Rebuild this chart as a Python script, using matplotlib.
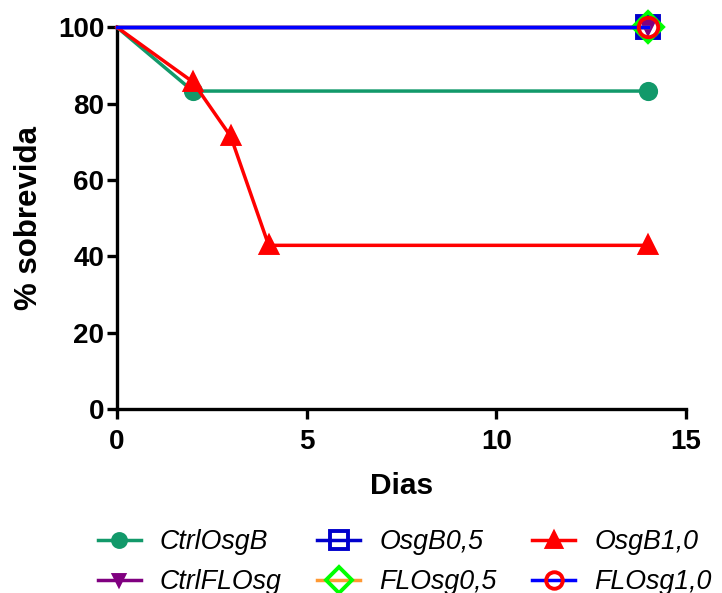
import matplotlib
matplotlib.use("Agg")
import matplotlib.pyplot as plt

plt.rcParams['font.family'] = ['Liberation Sans', 'DejaVu Sans']

# Survival (%) per group over days
days_ctrl_osgb = [0, 2, 14]
surv_ctrl_osgb = [100, 83.3, 83.3]

days_ctrl_flosg = [0, 14]
surv_ctrl_flosg = [100, 100]

days_osgb05 = [0, 14]
surv_osgb05 = [100, 100]

days_flosg05 = [0, 14]
surv_flosg05 = [100, 100]

days_osgb10 = [0, 2, 3, 4, 14]
surv_osgb10 = [100, 85.7, 71.4, 42.9, 42.9]

days_flosg10 = [0, 14]
surv_flosg10 = [100, 100]

# label, x, y, line colour, marker, marker edge, marker face, marker size
series = [
    ("CtrlOsgB", days_ctrl_osgb, surv_ctrl_osgb, "#12996A", "o", "#12996A", "#12996A", 11),
    ("CtrlFLOsg", days_ctrl_flosg, surv_ctrl_flosg, "#800080", "v", "#800080", "#800080", 9),
    ("OsgB0,5", days_osgb05, surv_osgb05, "#0000CC", "s", "#0000CC", "none", 16),
    ("FLOsg0,5", days_flosg05, surv_flosg05, "#FF9933", "D", "#00FF00", "none", 15),
    ("OsgB1,0", days_osgb10, surv_osgb10, "#FF0000", "^", "#FF0000", "#FF0000", 12),
    ("FLOsg1,0", days_flosg10, surv_flosg10, "#0000FF", "o", "#FF0000", "none", 14),
]

fig = plt.figure(figsize=(7.22, 5.93), dpi=100)
ax = fig.add_axes([0.162, 0.310, 0.788, 0.644])

for label, x, y, lc, mk, mec, mfc, ms in series:
    ax.plot(x, y, color=lc, lw=2.5, marker=mk, markevery=list(range(1, len(x))),
            ms=ms, mec=mec, mfc=mfc, mew=2.8,
            label=label, clip_on=False, zorder=3)

ax.set_xlim(0, 15)
ax.set_ylim(0, 100)
ax.set_xticks([0, 5, 10, 15])
ax.set_yticks([0, 20, 40, 60, 80, 100])
for s in ['top', 'right']:
    ax.spines[s].set_visible(False)
for s in ['left', 'bottom']:
    ax.spines[s].set_linewidth(2.4)
ax.tick_params(width=2.4, length=7, labelsize=20, pad=2)
ax.tick_params(axis='x', pad=7.5)
for t in ax.get_xticklabels() + ax.get_yticklabels():
    t.set_fontweight('bold')

ax.set_xlabel("Dias", fontsize=21.5, fontweight='bold', labelpad=12)
ax.set_ylabel("% sobrevida", fontsize=22.5, fontweight='bold', labelpad=10)

handles, labels = ax.get_legend_handles_labels()
leg = fig.legend(handles, labels, loc='upper left', bbox_to_anchor=(0.102, 0.148),
                 ncol=3, frameon=False, prop={'style': 'italic', 'size': 19.3},
                 handlelength=1.6, columnspacing=1.32, labelspacing=0.52,
                 handletextpad=0.72, markerscale=0.85)

fig.savefig("out.png", dpi=100)
